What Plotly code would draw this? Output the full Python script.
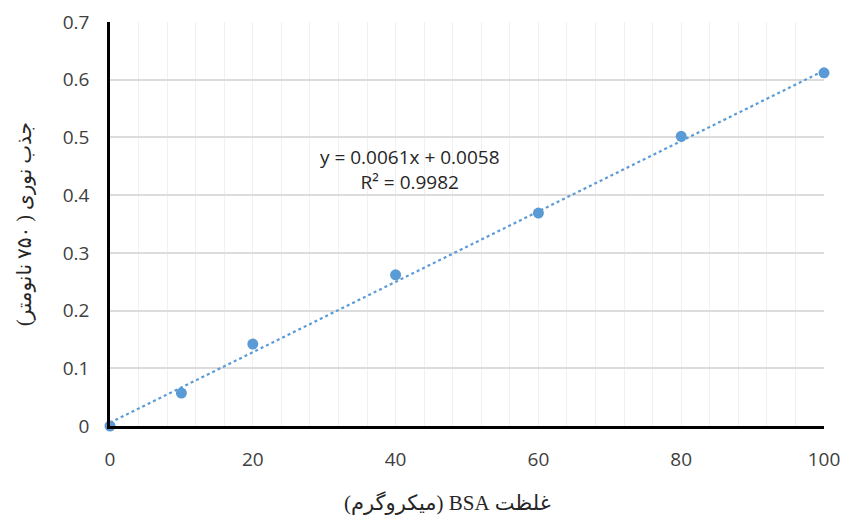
import numpy as np
import plotly.graph_objects as go

concentration = [0, 10, 20, 40, 60, 80, 100]
absorbance = [0.0, 0.057, 0.142, 0.262, 0.369, 0.502, 0.612]
equation_text = "y = 0.0061x + 0.0058<br>R² = 0.9982"
x_title = "غلظت BSA (میکروگرم)"
y_title = "جذب نوری ( ۷۵۰ نانومتر)"

slope, intercept = 0.0061, 0.0058
trend_x = [0, 100]
trend_y = [slope * v + intercept for v in trend_x]

RLE, PDF = "\u202B", "\u202C"

blue = "#5B9BD5"
fig = go.Figure()
fig.add_trace(go.Scatter(x=trend_x, y=trend_y, mode="lines",
                         line=dict(color=blue, width=2.2, dash="dot"),
                         hoverinfo="skip", cliponaxis=False))
fig.add_trace(go.Scatter(x=concentration, y=absorbance, mode="markers",
                         marker=dict(color=blue, size=11), cliponaxis=False))

fig.add_annotation(x=42, y=0.444, xref="x", yref="y", text=equation_text,
                   showarrow=False, align="center",
                   font=dict(family="Open Sans, Liberation Sans", size=19, color="#262626"))

tick_font = dict(family="Open Sans, Liberation Sans", size=19, color="#404040")
title_font = dict(family="Liberation Serif, DejaVu Sans", size=20, color="#262626")

# x-axis title as annotation (slightly left of centre, as in the original)
fig.add_annotation(x=0.4725, y=0, xref="paper", yref="paper", yshift=-77,
                   text=RLE + x_title + PDF, showarrow=False,
                   xanchor="center", yanchor="middle",
                   font=dict(family="Liberation Serif, DejaVu Sans", size=21, color="#262626"))

fig.update_layout(
    width=846, height=517,
    margin=dict(l=110, r=22, t=22, b=91),
    paper_bgcolor="white", plot_bgcolor="white",
    showlegend=False,
    xaxis=dict(range=[0, 100], dtick=20, tick0=0, showgrid=True,
               gridcolor="#f0f0f0", gridwidth=1,
               minor=dict(dtick=4, showgrid=True, gridcolor="#f0f0f0", gridwidth=1),
               showline=True, linecolor="black", linewidth=2.5,
               zeroline=False, ticks="", tickfont=tick_font, ticklabelstandoff=14,
               automargin=False),
    yaxis=dict(range=[0, 0.7], dtick=0.1, tick0=0, showgrid=True,
               gridcolor="#dcdcdc", gridwidth=1.5,
               showline=True, linecolor="black", linewidth=2.5,
               zeroline=False, ticks="", tickfont=tick_font, ticklabelstandoff=14,
               automargin=False,
               title=dict(text=RLE + y_title + PDF, font=title_font, standoff=26)),
)

fig.write_html("out.html", config={"displayModeBar": False},
               post_script="document.body.style.margin='0';document.body.style.padding='0';")
